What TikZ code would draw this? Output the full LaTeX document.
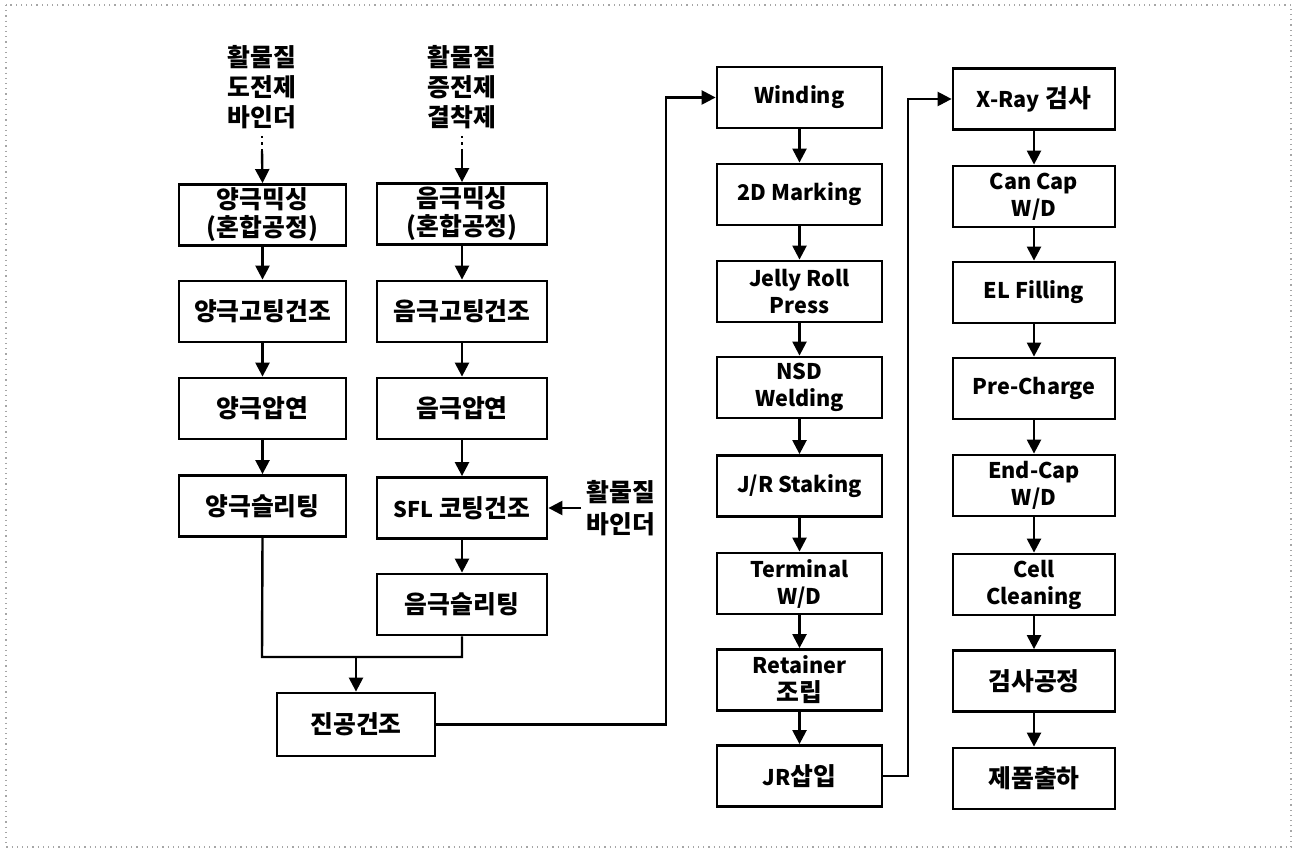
\documentclass[tikz,border=0pt]{standalone}
\usepackage{fontspec}
\setmainfont{Noto Sans CJK KR}
\usetikzlibrary{arrows.meta}
\newcommand{\lat}[1]{{\fontsize{10.8}{14}\selectfont #1}}
\begin{document}
\begin{tikzpicture}[x=0.5pt,y=-0.5pt,
  txt/.style={inner sep=0pt,align=center,font=\bfseries\fontsize{12.4}{14}\selectfont},
  etxt/.style={font=\bfseries\fontsize{10.8}{13.5}\selectfont},
  box/.style={txt,draw,line width=1.4pt,minimum height=30.5pt},
  wa/.style={box,minimum width=83.5pt},
  wb/.style={box,minimum width=85pt},
  wc/.style={box,minimum width=82.5pt},
  wd/.style={box,minimum width=81pt},
  ln/.style={line width=1.2pt},
  arr/.style={ln,-{Triangle[width=7pt,length=7pt]}}]
\useasboundingbox (0,0) rectangle (1294,849);
\draw[gray!70,dotted,line width=0.6pt] (6,5) rectangle (1291,847);

% column 1
\node[txt,font=\bfseries\fontsize{12.4}{15}\selectfont] (la) at (262,87) {활물질\\도전제\\바인더};
\node[wa] (a1) at (262.5,215) {양극믹싱\\(혼합공정)};
\node[wa] (a2) at (262.5,311.5) {양극고팅건조};
\node[wa] (a3) at (262.5,408.5) {양극압연};
\node[wa] (a4) at (262.5,506) {양극슬리팅};

% column 2
\node[txt,font=\bfseries\fontsize{12.4}{15}\selectfont] (lb) at (462,87) {활물질\\증전제\\결착제};
\node[wb] (b1) at (462,214) {음극믹싱\\(혼합공정)};
\node[wb] (b2) at (462,311.5) {음극고팅건조};
\node[wb] (b3) at (462,408.5) {음극압연};
\node[wb] (b4) at (462,508) {\lat{SFL} 코팅건조};
\node[wb] (b5) at (462,604.5) {음극슬리팅};
\node[txt,font=\bfseries\fontsize{12.4}{16}\selectfont] (lc) at (621,508) {활물질\\바인더};

\node[box,minimum width=79pt,minimum height=31.5pt] (v) at (356,724.5) {진공건조};

% column 3
\node[wc,etxt] (c1) at (799.5,97.5) {Winding};
\node[wc,etxt] (c2) at (799.5,194.5) {2D Marking};
\node[wc,etxt] (c3) at (799.5,291.5) {Jelly Roll\\Press};
\node[wc,etxt] (c4) at (799.5,387.5) {NSD\\Welding};
\node[wc,etxt] (c5) at (799.5,486) {J/R Staking};
\node[wc,etxt] (c6) at (799.5,583.5) {Terminal\\W/D};
\node[wc] (c7) at (799.5,680) {\lat{Retainer}\\조립};
\node[wc] (c8) at (799.5,776) {\lat{JR}삽입};

% column 4
\node[wd] (d1) at (1034,99) {\lat{X-Ray} 검사};
\node[wd,etxt] (d2) at (1034,196.5) {Can Cap\\W/D};
\node[wd,etxt] (d3) at (1034,292.5) {EL Filling};
\node[wd,etxt] (d4) at (1034,388.5) {Pre-Charge};
\node[wd,etxt] (d5) at (1034,485.5) {End-Cap\\W/D};
\node[wd,etxt] (d6) at (1034,584.5) {Cell\\Cleaning};
\node[wd] (d7) at (1034,681) {검사공정};
\node[wd] (d8) at (1034,778.5) {제품출하};

% input dotted lines
\coordinate (pa) at (262,151);
\coordinate (pb) at (462,151);
\draw[ln,dotted] (262,136) -- (pa);
\draw[ln,dotted] (462,136) -- (pb);
\draw[arr] (pa) -- (a1.north);
\draw[arr] (pb) -- (b1.north);

% chains
\draw[arr] (a1) -- (a2);
\draw[arr] (a2) -- (a3);
\draw[arr] (a3) -- (a4);
\draw[arr] (b1) -- (b2);
\draw[arr] (b2) -- (b3);
\draw[arr] (b3) -- (b4);
\draw[arr] (b4) -- (b5);
\coordinate (lcw) at (581,508);
\draw[arr] (lcw) -- (b4.east);

% merge
\coordinate (m) at (356,657);
\draw[ln] (a4.south) -- (262,657) -- (462,657) -- (b5.south);
\draw[arr] (m) -- (v.north);

% to winding
\draw[arr] (v.east) -- (666,724.5) |- (c1.west);
\foreach \i/\j in {1/2,2/3,3/4,4/5,5/6,6/7,7/8}{
  \draw[arr] (c\i) -- (c\j);
  \draw[arr] (d\i) -- (d\j);
}
\draw[arr] (c8.east) -- (908,776) |- (d1.west);
\end{tikzpicture}
\end{document}
